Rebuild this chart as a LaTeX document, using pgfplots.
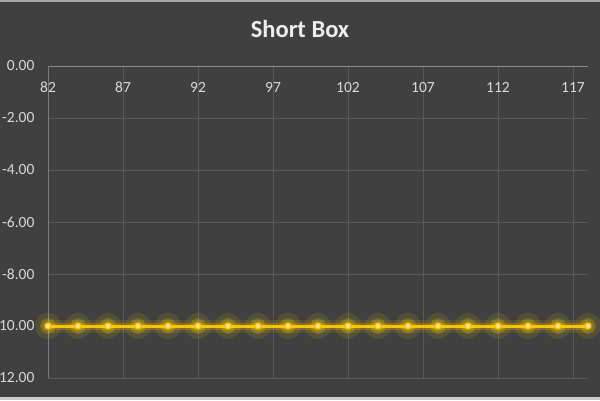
\documentclass[border=0pt]{standalone}
\usepackage{pgfplots}
\pgfplotsset{compat=1.18}
\usepackage{fontspec}
\setmainfont{Carlito}
\definecolor{bg}{HTML}{404040}
\definecolor{gridc}{HTML}{595959}
\definecolor{axisc}{HTML}{8C8C8C}
\definecolor{txt}{HTML}{D9D9D9}
\definecolor{titlec}{HTML}{EDEDED}
\definecolor{gold}{HTML}{FFC000}
\definecolor{paleyel}{HTML}{FFE699}
\definecolor{glow}{HTML}{FFD700}
\begin{document}
\begin{tikzpicture}[x=1pt,y=1pt]
\clip (0,0) rectangle (600,400);
\fill[bg] (0,0) rectangle (600,400);
\fill[black!35] (0,398) rectangle (600,400);
\fill[black!20] (0,0) rectangle (600,3);
\node[anchor=base, text=titlec, font=\fontsize{24.5}{28}\selectfont\bfseries] at (300,362) {Short Box};
\begin{axis}[
  at={(48pt,22pt)}, anchor=south west,
  scale only axis, width=540pt, height=312pt,
  xmin=82, xmax=118, ymin=-12, ymax=0,
  enlargelimits=false,
  clip=false,
  axis line style={draw=none},
  xtick={82,87,...,117},
  ytick={0,-2,...,-12},
  major tick length=0pt,
  grid=major,
  major grid style={color=gridc, line width=0.8pt},
  xticklabel pos=right,
  xticklabel style={anchor=north, yshift=-12.5pt, text=txt, font=\fontsize{15.5}{18}\selectfont},
  yticklabel style={anchor=east, xshift=-10pt, text=txt, font=\fontsize{15.5}{18}\selectfont},
  /pgf/number format/assume math mode=true,
  yticklabel={\pgfmathprintnumber[fixed,fixed zerofill,precision=2]{\tick}},
  xticklabel={\pgfmathprintnumber[fixed,precision=0]{\tick}},
]
\draw[axisc, line width=1pt] (axis cs:82,0) -- (axis cs:118,0);
\draw[axisc!70!gridc, line width=0.8pt] (axis cs:82,0) -- (axis cs:82,-12);
\addplot[color=glow, opacity=0.1, line width=13pt, mark=*, mark size=6.5pt, mark options={draw=none, fill=glow}] table {
x y
82 -10
84 -10
86 -10
88 -10
90 -10
92 -10
94 -10
96 -10
98 -10
100 -10
102 -10
104 -10
106 -10
108 -10
110 -10
112 -10
114 -10
116 -10
118 -10
};
\addplot[color=glow, opacity=0.2, line width=7pt, mark=*, mark size=4.5pt, mark options={draw=none, fill=glow}] table {
x y
82 -10
84 -10
86 -10
88 -10
90 -10
92 -10
94 -10
96 -10
98 -10
100 -10
102 -10
104 -10
106 -10
108 -10
110 -10
112 -10
114 -10
116 -10
118 -10
};
\addplot[color=gold, line width=3pt, mark=*, mark size=3pt, mark options={fill=paleyel, draw=gold, line width=1.2pt}] table {
x y
82 -10
84 -10
86 -10
88 -10
90 -10
92 -10
94 -10
96 -10
98 -10
100 -10
102 -10
104 -10
106 -10
108 -10
110 -10
112 -10
114 -10
116 -10
118 -10
};
\end{axis}
\end{tikzpicture}
\end{document}
